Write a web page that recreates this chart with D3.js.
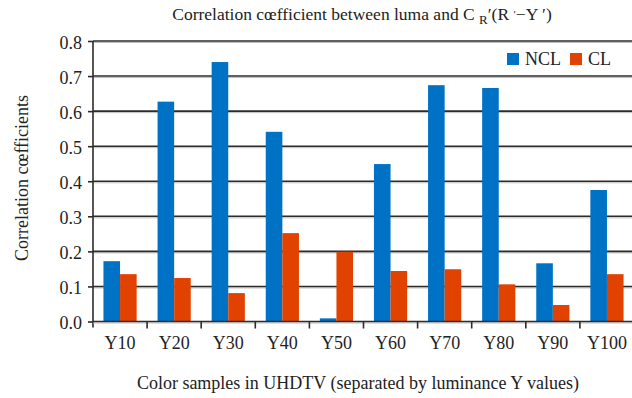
<!DOCTYPE html>
<html>
<head>
<meta charset="utf-8">
<script src="https://cdn.jsdelivr.net/npm/d3@7"></script>
<style>
  html, body { margin: 0; padding: 0; background: #fff; }
  svg { display: block; }
  text { font-family: "Liberation Serif", "Times New Roman", serif; fill: #222; }
</style>
</head>
<body>
<svg id="chart" width="632" height="398"></svg>
<script>
// Samples grouped by luminance Y value
const categories = ["Y10", "Y20", "Y30", "Y40", "Y50", "Y60", "Y70", "Y80", "Y90", "Y100"];
const seriesNames = ["NCL", "CL"];
const nclValues = [0.172, 0.627, 0.740, 0.541, 0.009, 0.449, 0.674, 0.666, 0.166, 0.375];
const clValues  = [0.135, 0.124, 0.081, 0.252, 0.199, 0.144, 0.149, 0.106, 0.047, 0.135];
const yTicks = [0, 0.1, 0.2, 0.3, 0.4, 0.5, 0.6, 0.7, 0.8];
const colors = { NCL: "#0072C6", CL: "#E24200" };

const svg = d3.select("#chart");
const plot = { left: 93, right: 634, top: 41, bottom: 321.5 };
const fontSize = "18px";

const x = d3.scaleBand().domain(categories).range([plot.left, plot.right]).padding(0);
const xs = d3.scaleBand().domain(seriesNames).range([0, x.bandwidth()]).paddingInner(0).paddingOuter(0.63);
const y = d3.scaleLinear().domain([0, 0.8]).range([plot.bottom, plot.top]);

// Horizontal grid lines with a soft shadow
const grid = svg.append("g");
grid.selectAll("line.shadow").data(yTicks.slice(1)).join("line")
  .attr("x1", plot.left).attr("x2", 632)
  .attr("y1", d => y(d) + 1.5).attr("y2", d => y(d) + 1.5)
  .attr("stroke", "#bdbdbd").attr("stroke-width", 1);
grid.selectAll("line.main").data(yTicks.slice(1)).join("line")
  .attr("x1", plot.left).attr("x2", 632)
  .attr("y1", d => y(d)).attr("y2", d => y(d))
  .attr("stroke", "#2e2b28").attr("stroke-width", 1.6);

// Bars
const rows = categories.map((c, i) => ({ cat: c, NCL: nclValues[i], CL: clValues[i] }));
const groups = svg.append("g").selectAll("g").data(rows).join("g")
  .attr("transform", d => `translate(${x(d.cat)},0)`);
groups.selectAll("rect").data(d => seriesNames.map(s => ({ s, v: d[s] }))).join("rect")
  .attr("x", d => xs(d.s))
  .attr("width", xs.bandwidth())
  .attr("y", d => y(d.v))
  .attr("height", d => y(0) - y(d.v))
  .attr("fill", d => colors[d.s]);

// Y axis
const yAxis = d3.axisLeft(y).tickValues(yTicks).tickFormat(d3.format(".1f")).tickSize(5).tickPadding(6);
const gy = svg.append("g").attr("transform", `translate(${plot.left},0)`).call(yAxis);
gy.attr("font-family", null).attr("font-size", null);
gy.select(".domain").attr("stroke", "#2e2b28").attr("stroke-width", 1.6)
  .attr("d", `M0,${plot.top}V${plot.bottom + 6}`);
gy.selectAll(".tick line").attr("stroke", "#2e2b28").attr("stroke-width", 1.6);
gy.selectAll(".tick text").style("font-size", fontSize).attr("dy", "0.4em").attr("fill", "#222");

// X axis: ticks at category boundaries
const xAxisG = svg.append("g");
xAxisG.append("line")
  .attr("x1", plot.left).attr("x2", 632)
  .attr("y1", plot.bottom + 1.5).attr("y2", plot.bottom + 1.5)
  .attr("stroke", "#bdbdbd").attr("stroke-width", 1);
xAxisG.append("line")
  .attr("x1", plot.left).attr("x2", 632)
  .attr("y1", plot.bottom).attr("y2", plot.bottom)
  .attr("stroke", "#2e2b28").attr("stroke-width", 1.6);
xAxisG.selectAll("line.tk").data(categories.slice(1)).join("line")
  .attr("x1", d => x(d)).attr("x2", d => x(d))
  .attr("y1", plot.bottom).attr("y2", plot.bottom + 7)
  .attr("stroke", "#2e2b28").attr("stroke-width", 1.6);
xAxisG.selectAll("text").data(categories).join("text")
  .attr("x", d => x(d) + x.bandwidth() / 2)
  .attr("y", 349)
  .attr("text-anchor", "middle")
  .style("font-size", fontSize)
  .text(d => d);

// Axis titles
svg.append("text")
  .attr("x", 358).attr("y", 389)
  .attr("text-anchor", "middle")
  .style("font-size", fontSize)
  .text("Color samples in UHDTV (separated by luminance Y values)");

svg.append("text")
  .attr("transform", "translate(28,178) rotate(-90)")
  .attr("text-anchor", "middle")
  .style("font-size", fontSize)
  .text("Correlation cœfficients");

// Title
const title = svg.append("text")
  .attr("x", 362).attr("y", 20)
  .attr("text-anchor", "middle")
  .style("font-size", "17.5px");
title.append("tspan").text("Correlation cœfficient between luma and C ");
title.append("tspan").attr("dy", 4).style("font-size", "13px").text("R");
title.append("tspan").attr("dy", -4).text("′(R ");
title.append("tspan").attr("dy", -2).style("font-size", "11px").text("′");
title.append("tspan").attr("dy", 2).text("−Y ′)");

// Legend
const legend = svg.append("g").attr("transform", "translate(507,53)");
const li = legend.selectAll("g").data(seriesNames).join("g")
  .attr("transform", (d, i) => `translate(${i * 63},0)`);
li.append("rect").attr("width", 12).attr("height", 12).attr("fill", d => colors[d]);
li.append("text").attr("x", 18).attr("y", 12).style("font-size", fontSize).text(d => d);
</script>
</body>
</html>
